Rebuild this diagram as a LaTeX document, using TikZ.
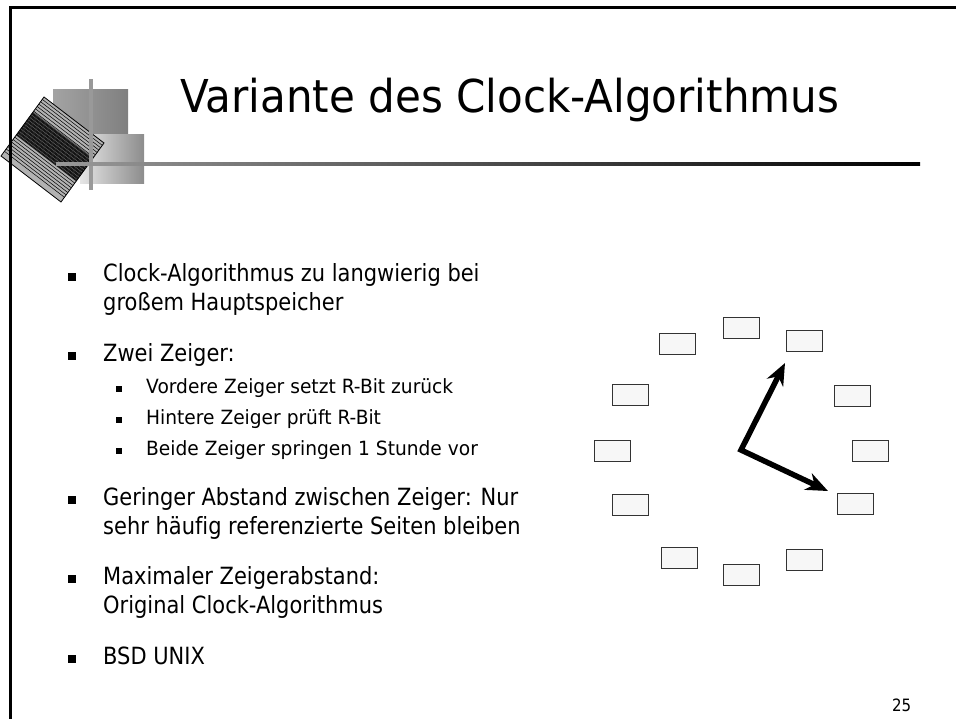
\documentclass[tikz,border=0pt]{standalone}
\usepackage{fontspec}
\newfontfamily\titelfont[FakeStretch=0.928, Ligatures=NoCommon]{DejaVu Sans}
\newfontfamily\folienfont[FakeStretch=0.885, Ligatures=NoCommon]{DejaVu Sans}
\newfontfamily\unterfont[FakeStretch=0.95, Ligatures=NoCommon]{DejaVu Sans}
\usetikzlibrary{calc, arrows.meta}

\newcommand{\fTitel}{\titelfont\fontsize{45.3}{54}\selectfont}
\newcommand{\fText}{\folienfont\fontsize{23.7}{29}\selectfont}
\newcommand{\fSub}{\unterfont\fontsize{19.6}{24}\selectfont}
\newcommand{\fNr}{\folienfont\fontsize{17}{20}\selectfont}

\begin{document}
\begin{tikzpicture}[
	x = 1pt, y = -1pt,
	punkt/.style = {fill = black, inner sep = 0pt, minimum size = 7.5pt},
	unterpunkt/.style = {fill = black, inner sep = 0pt, minimum size = 6pt},
	zeile/.style = {anchor = base west, inner sep = 0pt, font = \fText},
	unterzeile/.style = {anchor = base west, inner sep = 0pt, font = \fSub},
	seite/.style = {
		draw = black!80, fill = black!3, line width = 0.9pt,
		minimum width = 36pt, minimum height = 21pt, inner sep = 0pt
	},
	zeiger/.style = {
		line width = 5.5pt,
		> = {Stealth[length = 22pt, width = 18pt, inset = 7pt]}, <->
	},
]

	% Bildgröße
	\useasboundingbox (0,0) rectangle (956,719);

	% Logo: zwei Verlaufsflächen
	\shade[left color = black!36, middle color = black!37, right color = black!50]
		(53,90) rectangle (128,135);
	\shade[left color = black!10, middle color = black!13, right color = black!45]
		(80,135) rectangle (144,184);

	% Logo: gedrehtes Quadrat mit Streifen
	\coordinate (L) at (1,156);
	\coordinate (T) at (44,97);
	\coordinate (R) at (104,143);
	\coordinate (B) at (61,202);

	\fill[black!30] (L) -- (T) -- (R) -- (B) -- cycle;
	\fill[black!65]
		($(T)!0.25!(L)$) -- ($(R)!0.25!(B)$)
		-- ($(R)!0.65!(B)$) -- ($(T)!0.65!(L)$) -- cycle;
	\foreach \t in {0.04,0.08,...,0.96}
		\draw[line width = 0.5pt] ($(T)!\t!(L)$) -- ($(R)!\t!(B)$);
	\foreach \t in {0.27,0.29,...,0.63}
		\draw[line width = 0.4pt] ($(T)!\t!(L)$) -- ($(R)!\t!(B)$);
	\draw[line width = 0.8pt] (L) -- (T) -- (R) -- (B) -- cycle;

	% Logo: Linien
	\fill[black!40] (89.2,79) rectangle (92.8,190);
	\shade[left color = black!40, right color = black]
		(56,162.3) rectangle (920,165.7);

	% Rahmen
	\draw[black!45, line width = 3.6pt] (10.5,719) -- (10.5,7.5) -- (956,7.5);
	\draw[line width = 2.4pt] (10.5,719) -- (10.5,7.5) -- (956,7.5);

	% Titel
	\node[anchor = base west, inner sep = 0pt, font = \fTitel] (titel)
		at (180,113) {Variante des Clock-Algorithmus};

	% Aufzählungspunkte
	\foreach \y in {277,356,500,579,659}
		\node[punkt] (punkt\y) at (72,\y) {};
	\foreach \y in {389,420,451}
		\node[unterpunkt] (unterpunkt\y) at (119,\y) {};

	% Text
	\node[zeile] (t1a) at (103,282) {Clock-Algorithmus zu langwierig bei};
	\node[zeile] (t1b) at (103,311) {großem Hauptspeicher};
	\node[zeile] (t2) at (103,361) {Zwei Zeiger:};
	\node[unterzeile] (t2a) at (146,393) {Vordere Zeiger setzt R-Bit zurück};
	\node[unterzeile] (t2b) at (146,424) {Hintere Zeiger prüft R-Bit};
	\node[unterzeile] (t2c) at (146,455) {Beide Zeiger springen 1 Stunde vor};
	\node[zeile] (t3a) at (103,505) {Geringer Abstand zwischen Zeiger: Nur};
	\node[zeile] (t3b) at (103,534) {sehr häufig referenzierte Seiten bleiben};
	\node[zeile] (t4a) at (103,584) {Maximaler Zeigerabstand:};
	\node[zeile] (t4b) at (103,613) {Original Clock-Algorithmus};
	\node[zeile] (t5) at (103,664) {BSD UNIX};

	% Seitenzahl
	\node[anchor = base east, inner sep = 0pt, font = \fNr] (nr)
		at (911.5,711) {25};

	% Uhr: Seiten im Kreis
	\foreach \x/\y [count = \i] in {
		741.7/327.5, 804/341.3, 852/395.7, 870.3/451,
		855.3/503.7, 804/560.3, 741.5/575.3, 679.8/558,
		630.3/505, 612.2/451, 630.3/394.5, 677.3/343.7}
		\node[seite] (s\i) at (\x,\y) {};

	% Uhr: zwei Zeiger
	\coordinate (M) at (741,450);
	\coordinate (Z1) at (785,363);
	\coordinate (Z2) at (828,491);
	\draw[zeiger] (Z1) -- (M) -- (Z2);

\end{tikzpicture}
\end{document}
